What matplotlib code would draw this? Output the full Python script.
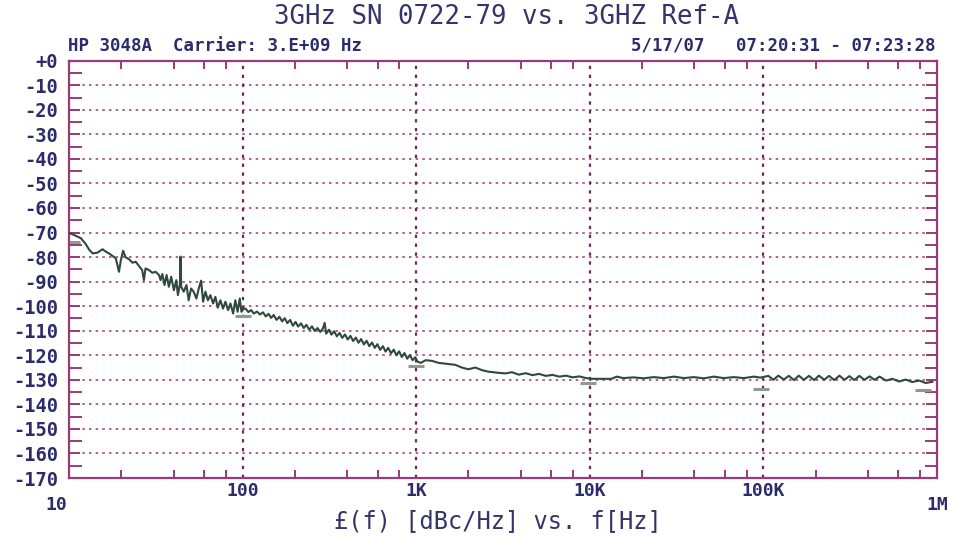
import matplotlib
matplotlib.use("Agg")
import matplotlib.pyplot as plt
from matplotlib.ticker import FixedLocator, NullFormatter
import matplotlib.transforms as mtrans

plt.rcParams["font.family"] = ["DejaVu Sans Mono", "DejaVu Sans"]

# ---- data ----
freq_hz = [
    10.0, 10.3, 11.0, 11.7, 12.4, 13.1, 13.7, 14.6, 15.6, 16.3, 17.0, 17.8,
    18.6, 19.4, 19.9, 20.5, 21.2, 22.2, 23.2, 24.2, 25.3, 26.4, 27.0, 27.6,
    28.9, 30.2, 31.5, 33.0, 33.7, 34.5, 35.5, 36.5, 37.6, 38.8, 40.2, 41.5,
    42.4, 43.6, 43.9, 44.3, 45.8, 47.5, 48.9, 50.5, 52.2, 54.2, 55.9, 57.7,
    59.2, 61.1, 63.1, 65.2, 67.6, 69.7, 71.9, 74.5, 77.1, 79.6, 82.5, 85.1,
    88.2, 90.8, 93.6, 96.3, 98.5, 101.5,
    104, 108, 112, 116, 121, 126, 131, 136, 141, 146, 151, 157, 163, 169,
    175, 181, 188, 195, 202, 209, 217, 225, 233, 242, 251, 260, 270, 280,
    290, 297, 303, 314, 325, 337, 349, 362, 375, 389, 403, 418, 433, 449,
    465, 482, 500, 518, 537, 557, 577, 598, 620, 643, 666, 690, 716, 742,
    769, 797, 826, 856, 888, 920, 953, 988, 1017, 1062, 1134, 1236, 1346,
    1680, 1830, 2000, 2190, 2400, 2620, 2930, 3270, 3560, 3900, 4270, 4670,
    5100, 5580, 6100, 6670, 7300, 7970, 8700, 9500, 10400, 11900, 13300,
    14300, 15600, 17900, 20400, 23300, 26700, 30500, 34800, 39700, 45400,
    51800, 59000, 67500, 77300, 88000, 96000,
    107e3, 114e3, 122e3, 131e3, 140e3, 150e3, 160e3, 171e3, 183e3, 196e3,
    209e3, 224e3, 239e3, 256e3, 274e3, 293e3, 313e3, 334e3, 357e3, 382e3,
    409e3, 437e3, 467e3, 509e3, 554e3, 605e3, 660e3, 720e3, 790e3, 860e3,
    940e3,
]
noise_dbc = [
    -70.3, -70.5, -71.4, -72.3, -74.4, -77.1, -78.5, -78.2, -76.8, -77.8, -78.5, -79.5,
    -80.5, -86.0, -81.2, -77.4, -80.1, -80.9, -82.3, -81.9, -83.6, -85.3, -89.4, -84.6,
    -85.3, -86.4, -86.0, -87.3, -89.4, -86.9, -91.4, -87.3, -92.1, -88.0, -93.5, -89.4,
    -95.5, -90.7, -79.8, -92.1, -94.1, -91.4, -97.6, -92.8, -94.1, -96.9, -92.8, -89.6,
    -98.2, -94.1, -97.6, -95.5, -98.9, -96.2, -100.6, -97.6, -101.0, -98.2, -101.6, -98.9,
    -103.0, -97.6, -102.3, -96.9, -102.3, -101.0,
    -101.0, -102.4, -101.6, -103.0, -102.2, -103.4, -102.5, -104.2, -103.1, -104.8, -103.6, -105.6, -104.3, -106.2,
    -104.9, -106.9, -105.6, -108.0, -106.4, -108.3, -107.0, -108.9, -107.6, -109.6, -108.2, -110.1, -108.9, -110.5,
    -109.1, -106.8, -111.2, -109.6, -111.6, -110.2, -112.3, -110.9, -112.9, -111.5, -113.6, -112.1, -114.2, -112.8,
    -114.9, -113.4, -115.6, -114.1, -116.3, -114.8, -117.0, -115.5, -117.8, -116.3, -118.5, -117.0, -119.2, -117.7,
    -120.0, -118.4, -120.7, -119.1, -121.4, -119.9, -122.0, -120.8, -122.6, -123.1, -122.0, -122.3, -123.1,
    -123.9, -125.0, -125.7, -125.0, -126.1, -126.7, -127.1, -127.4, -126.9, -127.9, -127.3, -128.1,
    -127.6, -128.4, -128.0, -128.7, -128.3, -129.0, -128.6, -129.3, -129.6, -129.6, -129.6,
    -128.7, -129.3, -129.0, -129.4, -128.9, -129.3, -128.7, -129.3, -128.9, -129.4,
    -128.7, -129.3, -128.9, -129.3, -128.7, -129.1,
    -128.4, -130.0, -128.3, -129.9, -128.4, -130.1, -128.3, -130.0, -128.4, -130.1,
    -128.3, -130.0, -128.4, -130.1, -128.3, -130.0, -128.5, -130.1, -128.4, -130.0,
    -128.6, -130.0, -128.7, -130.3, -129.6, -130.7, -129.9, -130.9, -130.3, -131.3,
    -130.8,
]

# grey reference marks near each decade
ref_freq_hz = [10.4, 100, 1000, 9800, 97000, 830000]
ref_dbc = [-73.9, -104.2, -124.3, -131.4, -133.6, -134.3]

x_major = [10, 100, 1000, 10000, 100000, 1000000]
x_labels = ["10", "100", "1K", "10K", "100K", "1M"]
x_label_low = [True, False, False, False, False, True]
y_major = list(range(0, -171, -10))
y_labels = ["+0"] + [str(v) for v in y_major[1:]]

title = "3GHz SN 0722-79 vs. 3GHZ Ref-A"
header_left = "HP 3048A  Carrier: 3.E+09 Hz"
header_right = "5/17/07   07:20:31 - 07:23:28"
x_title = "£(f) [dBc/Hz] vs. f[Hz]"

text_color = "#2c2c6c"
frame_color = "#9a3a78"
hgrid_color = "#a04884"
vgrid_color = "#6a2a5c"
trace_color = "#2e4a3c"

fig = plt.figure(figsize=(9.54, 5.37), dpi=100)
ax = fig.add_axes([69 / 954, 1 - 478 / 537, 868 / 954, 417.3 / 537])

ax.plot(freq_hz, noise_dbc, color=trace_color, lw=1.5, zorder=3)
ax.plot(ref_freq_hz, ref_dbc, ls="none", marker="_", ms=11, mew=2.2,
        color="#8e9a94", zorder=2)

ax.set_xscale("log")
ax.set_xlim(10, 1e6)
ax.set_ylim(-170, 0)

# grid lines
for v in y_major[1:-1]:
    ax.axhline(v, color=hgrid_color, ls=(0, (1.5, 2.5)), lw=1.2, zorder=1)
for v in x_major[1:-1]:
    ax.axvline(v, color=vgrid_color, ls=(0, (1.5, 2.5)), lw=1.6, zorder=1)

for sp in ax.spines.values():
    sp.set_color(frame_color)
    sp.set_linewidth(1.6)

# ticks
ax.xaxis.set_major_locator(FixedLocator(x_major))
ax.xaxis.set_major_formatter(NullFormatter())
minor_x = [m * d for d in x_major[:-1] for m in (2, 4, 6, 8)]
ax.xaxis.set_minor_locator(FixedLocator(minor_x))
ax.xaxis.set_minor_formatter(NullFormatter())
ax.tick_params(axis="x", which="major", length=0)
ax.tick_params(axis="x", which="minor", direction="in", length=6, width=1.4,
               color=frame_color, top=True, bottom=True)

ax.yaxis.set_major_locator(FixedLocator(y_major))
ax.set_yticklabels(y_labels)
ax.yaxis.set_minor_locator(FixedLocator(list(range(-5, -170, -10))))
ax.tick_params(axis="y", which="major", direction="in", length=8, width=1.4,
               color=frame_color, left=True, right=True, pad=8,
               labelsize=13.5, labelcolor=text_color)
ax.tick_params(axis="y", which="minor", direction="in", length=9, width=1.4,
               color=frame_color, left=True, right=True)
for lab in ax.get_yticklabels():
    lab.set_fontweight("bold")

# x tick labels (first and last sit lower)
trans = mtrans.blended_transform_factory(ax.transData, fig.transFigure)
for xv, lab, low in zip(x_major, x_labels, x_label_low):
    ypix = 505 if low else 491
    xpos = xv * 0.85 if xv == 10 else xv
    ax.text(xpos, 1 - ypix / 537, lab, transform=trans, ha="center",
            va="center", fontsize=13, fontweight="bold", color=text_color)

fig.text(507 / 954, 1 - 17 / 537, title, ha="center", va="center",
         fontsize=18.5, color="#34346a")
fig.text(68 / 954, 1 - 46 / 537, header_left, ha="left", va="center",
         fontsize=12.5, fontweight="bold", color=text_color)
fig.text(936 / 954, 1 - 46 / 537, header_right, ha="right", va="center",
         fontsize=12.5, fontweight="bold", color=text_color)
fig.text(498 / 954, 1 - 521 / 537, x_title, ha="center", va="center",
         fontsize=17, color="#34346a")

fig.savefig("out.png", dpi=100, facecolor="white")
